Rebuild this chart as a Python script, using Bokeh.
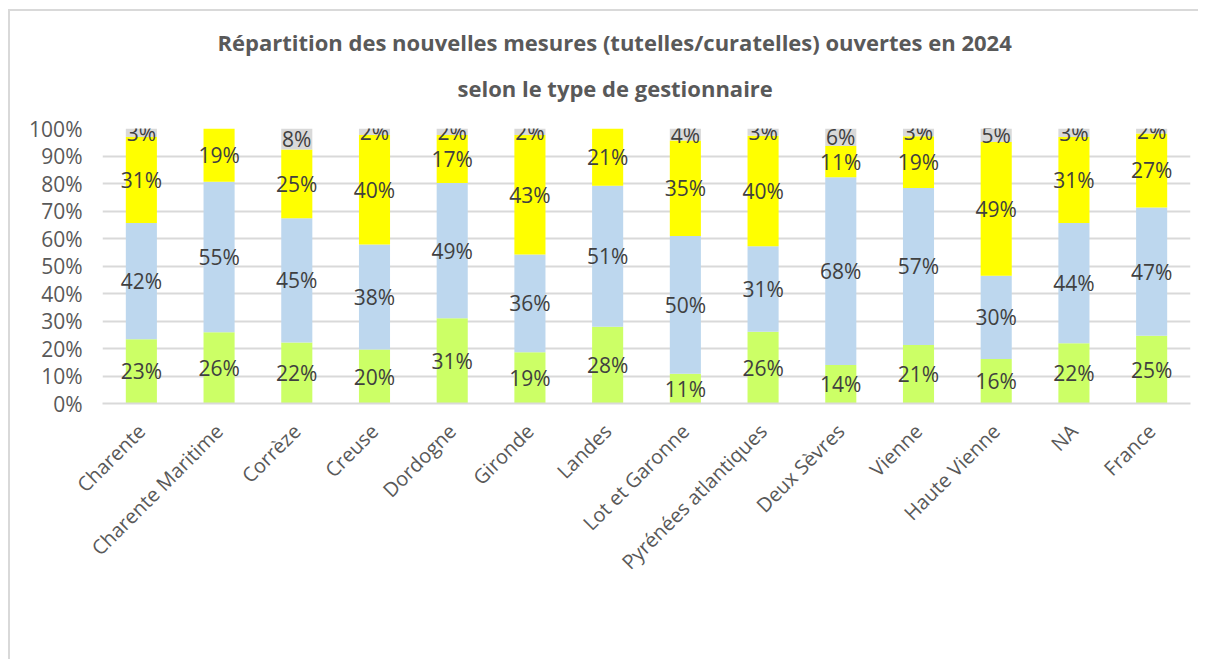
from bokeh.plotting import figure
from bokeh.models import ColumnDataSource, Legend, LegendItem, Title, FactorRange
from bokeh.embed import file_html
from bokeh.resources import INLINE
from bokeh.core.properties import value
import math

categories = ["Charente", "Charente Maritime", "Corrèze", "Creuse", "Dordogne", "Gironde",
              "Landes", "Lot et Garonne", "Pyrénées atlantiques", "Deux Sèvres", "Vienne",
              "Haute Vienne", "NA", "France"]
familles = [23.4, 25.9, 22.2, 19.6, 31.0, 18.6, 27.9, 10.8, 26.1, 14.0, 21.3, 16.2, 21.9, 24.6]
services = [42.2, 54.7, 45.2, 38.2, 49.2, 35.6, 51.3, 50.1, 31.1, 68.3, 57.1, 30.3, 43.7, 46.7]
mandataires = [31.3, 19.4, 25.0, 39.8, 17.4, 43.4, 20.8, 34.7, 40.2, 11.3, 18.8, 48.6, 31.3, 26.9]
preposes = [3.1, 0.0, 7.6, 2.4, 2.4, 2.4, 0.0, 4.4, 2.6, 6.4, 2.8, 4.9, 3.1, 1.8]
series_names = ["familles", "services", "mandataires individuels", "préposés"]
colors = ["#CCFF66", "#BDD7EE", "#FFFF00", "#D9D9D9"]
ytick_values = [0, 10, 20, 30, 40, 50, 60, 70, 80, 90, 100]
title_lines = ["Répartition des nouvelles mesures (tutelles/curatelles) ouvertes en 2024",
               "selon le type de gestionnaire"]

FONT = "Open Sans"
series = [familles, services, mandataires, preposes]

p = figure(x_range=FactorRange(*categories), y_range=(0, 100),
           frame_width=1088, frame_height=275, output_backend="svg", toolbar_location=None,
           min_border_left=92, min_border_right=8, min_border_top=117, min_border_bottom=250)
p.x_range.factor_padding = 0.0
p.x_range.range_padding = 0.0

renderers = []
bottom = [0.0] * len(categories)
for vals, name, col in zip(series, series_names, colors):
    top = [b + v for b, v in zip(bottom, vals)]
    src = ColumnDataSource(dict(x=categories, bottom=bottom, top=top))
    r = p.vbar(x="x", bottom="bottom", top="top", width=0.4, source=src,
               fill_color=col, line_color=None)
    renderers.append(r)
    lx, ly, lt = [], [], []
    for c, b, v in zip(categories, bottom, vals):
        if v > 0:
            lx.append(c)
            ly.append(b + v / 2)
            lt.append(f"{int(round(v))}%")
    lsrc = ColumnDataSource(dict(x=lx, y=ly, t=lt))
    p.text(x="x", y="y", text="t", source=lsrc, text_align="center", text_baseline="middle",
           text_font=value(FONT), text_font_size="21px", text_color="#404040")
    bottom = top

# axes
p.yaxis.ticker = ytick_values
p.yaxis.major_label_overrides = {v: f"{v}%" for v in ytick_values}
p.yaxis.axis_line_color = None
p.yaxis.major_tick_line_color = None
p.yaxis.minor_tick_line_color = None
p.yaxis.major_label_text_font = FONT
p.yaxis.major_label_text_font_size = "21px"
p.yaxis.major_label_text_color = "#595959"
p.yaxis.major_label_standoff = 14

p.xaxis.axis_line_color = "#D9D9D9"
p.xaxis.axis_line_width = 2
p.xaxis.major_tick_line_color = None
p.xaxis.minor_tick_line_color = None
p.xaxis.major_label_orientation = math.pi / 4
p.xaxis.major_label_text_font = FONT
p.xaxis.major_label_text_font_size = "20px"
p.xaxis.major_label_text_color = "#595959"
p.xaxis.major_label_standoff = 18

p.xgrid.grid_line_color = None
p.ygrid.grid_line_color = "#D9D9D9"
p.ygrid.grid_line_width = 2
p.outline_line_color = None

# title: two lines, first added is nearest the frame
t2 = Title(text=title_lines[1], align="left", offset=355, standoff=52,
           text_font=FONT, text_font_size="22px", text_font_style="bold", text_color="#595959")
t1 = Title(text=title_lines[0], align="left", offset=115, standoff=-24,
           text_font=FONT, text_font_size="22px", text_font_style="bold", text_color="#595959")
p.add_layout(t2, "above")
p.add_layout(t1, "above")

legend = Legend(items=[LegendItem(label=n, renderers=[r]) for n, r in zip(series_names, renderers)],
                orientation="horizontal", location="top_center",
                label_text_font=FONT, label_text_font_size="18px", label_text_color="#595959",
                glyph_width=11, glyph_height=11, spacing=22, padding=0, margin=-45,
                border_line_color=None, background_fill_alpha=0)
p.add_layout(legend, "below")

p.styles = {"margin-left": "8px", "margin-top": "9px",
            "border-left": "2px solid #D9D9D9", "border-top": "2px solid #D9D9D9"}

open("out.html", "w").write(file_html(p, INLINE))
